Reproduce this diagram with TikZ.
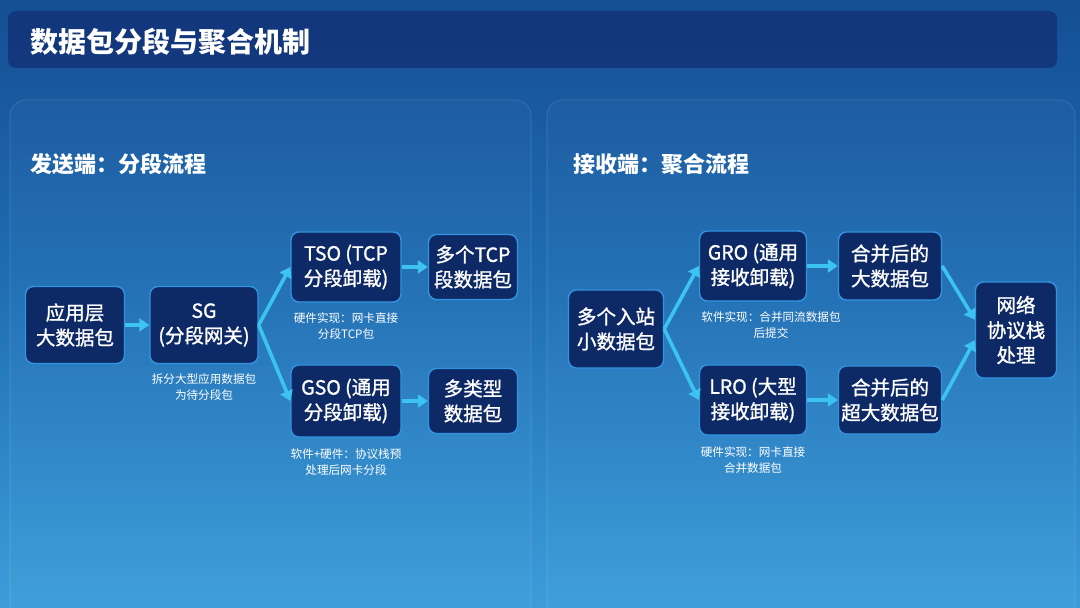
\documentclass[tikz,border=0pt]{standalone}
\usepackage{fontspec}
\setmainfont{Noto Sans CJK SC}
\newfontfamily\boxfont{Noto Sans CJK SC}[FakeBold=1.2]
\usepackage{xcolor}
\usetikzlibrary{positioning, arrows.meta, calc}

\definecolor{bgtop}{HTML}{154E93}
\definecolor{bgmid}{HTML}{2070B6}
\definecolor{bgbot}{HTML}{3C9DD9}
\definecolor{barfill}{HTML}{13357A}
\definecolor{boxfill}{HTML}{0E2A66}
\definecolor{boxline}{HTML}{3393E0}
\definecolor{flow}{HTML}{3CC3F0}

\begin{document}
\begin{tikzpicture}[
    x=0.5pt, y=-0.5pt,
    every node/.style={text=white},
    box/.style={draw=boxline, line width=0.7pt, fill=boxfill, rounded corners=4pt, align=center,
                inner sep=1pt, font=\boxfont\fontsize{9.75pt}{12.5pt}\selectfont},
    note/.style={align=center, inner sep=0pt, font=\fontsize{5.8pt}{7.8pt}\selectfont},
    heading/.style={anchor=west, inner sep=0pt, font=\fontsize{11pt}{13pt}\selectfont\bfseries},
    panel/.style={draw=white, draw opacity=0.09, fill=white, fill opacity=0.025, rounded corners=8pt, line width=0.6pt},
    arrow/.style={-{Triangle[length=5pt, width=6.5pt]}, draw=flow, line width=1.8pt},
  ]

  \useasboundingbox (0,0) rectangle (1080,608);
  \clip (0,0) rectangle (1080,608);

  % --- Background ---
  \shade[top color=bgtop, bottom color=bgmid] (0,0) rectangle (1080,300);
  \shade[top color=bgmid, bottom color=bgbot] (0,300) rectangle (1080,608);

  % --- Title bar ---
  \fill[barfill, opacity=0.9, rounded corners=4pt] (8,11) rectangle (1057,68);
  \node[anchor=west, inner sep=0pt, font=\fontsize{14pt}{16pt}\selectfont\bfseries] (title) at (30,42) {数据包分段与聚合机制};

  % --- Panels ---
  \draw[panel] (10,100) rectangle (531,660);
  \draw[panel] (547,100) rectangle (1075,660);

  \node[heading] (sendhd) at (30,164) {发送端：分段流程};
  \node[heading] (recvhd) at (573,164) {接收端：聚合流程};

  % --- Sender side ---
  \node[box, minimum width=49.5pt, minimum height=38.5pt] (app) at (75,325) {应用层\\大数据包};
  \node[box, minimum width=54pt, minimum height=38.5pt] (sg) at (204,325) {SG\\(分段网关)};
  \node[box, minimum width=55pt, minimum height=35pt] (tso) at (346,267) {TSO (TCP\\分段卸载)};
  \node[box, minimum width=44.5pt, minimum height=32.5pt] (tcpseg) at (473,267) {多个TCP\\段数据包};
  \node[box, minimum width=55pt, minimum height=36pt] (gso) at (346,401) {GSO (通用\\分段卸载)};
  \node[box, minimum width=44.5pt, minimum height=32.5pt] (mixed) at (473,401) {多类型\\数据包};

  \node[note, below=4.5pt of sg] (sgnote) {拆分大型应用数据包\\为待分段包};
  \node[note, below=5pt of tso] (tsonote) {硬件实现：网卡直接\\分段TCP包};
  \node[note, below=5.5pt of gso] (gsonote) {软件+硬件：协议栈预\\处理后网卡分段};

  % --- Receiver side ---
  \node[box, minimum width=47.5pt, minimum height=39pt] (inbound) at (616,329) {多个入站\\小数据包};
  \node[box, minimum width=53.5pt, minimum height=35pt] (gro) at (753,266) {GRO (通用\\接收卸载)};
  \node[box, minimum width=51.5pt, minimum height=34pt] (bigpkt) at (890,266) {合并后的\\大数据包};
  \node[box, minimum width=53.5pt, minimum height=35pt] (lro) at (753,400) {LRO (大型\\接收卸载)};
  \node[box, minimum width=51.5pt, minimum height=34pt] (hugepkt) at (890,400) {合并后的\\超大数据包};
  \node[box, minimum width=40.5pt, minimum height=48pt] (stack) at (1016,330) {网络\\协议栈\\处理};

  \node[note, below=5pt of gro, xshift=9pt] (gronote) {软件实现：合并同流数据包\\后提交};
  \node[note, below=5.5pt of lro] (lronote) {硬件实现：网卡直接\\合并数据包};

  % --- Arrows ---
  \draw[arrow] (app.east) -- (sg.west);
  \draw[arrow] (sg.east) -- (tso.west);
  \draw[arrow] (sg.east) -- (gso.west);
  \draw[arrow] (tso.east) -- (tcpseg.west);
  \draw[arrow] (gso.east) -- (mixed.west);

  \draw[arrow] (inbound.east) -- (gro.west);
  \draw[arrow] (inbound.east) -- (lro.west);
  \draw[arrow] (gro.east) -- (bigpkt.west);
  \draw[arrow] (lro.east) -- (hugepkt.west);
  \draw[arrow] (bigpkt.east) -- (stack.166);
  \draw[arrow] (hugepkt.east) -- (stack.194);

\end{tikzpicture}
\end{document}
